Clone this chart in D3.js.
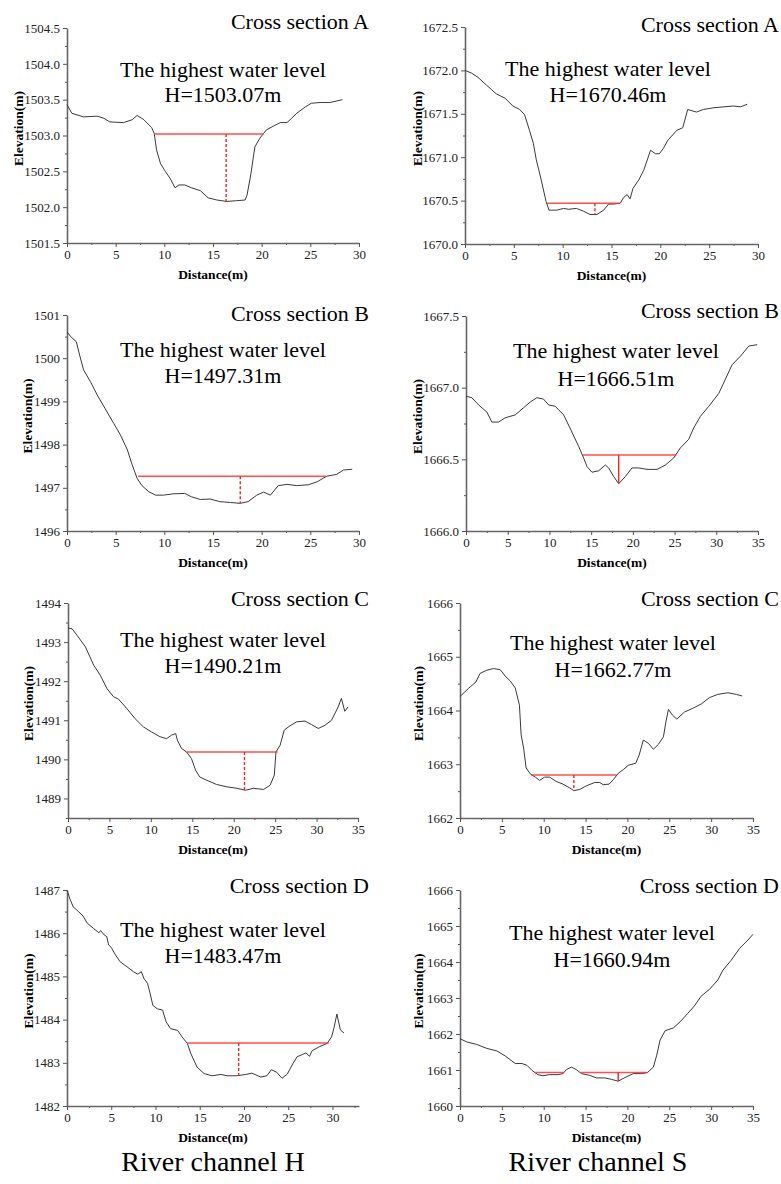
<!DOCTYPE html>
<html>
<head>
<meta charset="utf-8">
<script src="https://cdn.jsdelivr.net/npm/d3@7"></script>
<style>
  body { margin: 0; background: #fff; }
  svg { display: block; font-family: "Liberation Serif", "Times New Roman", serif; }
</style>
</head>
<body>
<svg id="chart" width="781" height="1184"></svg>
<script>
// ---- data ----
const channels = ["River channel H", "River channel S"];
const sections = ["A", "B", "C", "D"];

// ground profiles, [distance (m), elevation (m)]
const profileHA = [[0,1503.43],[0.5,1503.31],[1.7,1503.26],[3.1,1503.27],[3.8,1503.24],[4.4,1503.19],[5.8,1503.18],[6.7,1503.22],[7.2,1503.28],[7.9,1503.22],[8.7,1503.11],[8.96,1503.03],[9.2,1502.80],[9.6,1502.61],[10.1,1502.50],[10.6,1502.40],[11.1,1502.27],[11.5,1502.31],[12.1,1502.31],[12.8,1502.27],[13.7,1502.23],[14.5,1502.13],[15.4,1502.10],[16.4,1502.08],[17.4,1502.09],[18.3,1502.10],[18.5,1502.17],[18.9,1502.47],[19.3,1502.84],[19.8,1502.96],[20.2,1503.03],[20.5,1503.08],[21.2,1503.13],[21.9,1503.18],[22.6,1503.18],[23.6,1503.31],[24.5,1503.40],[25.1,1503.45],[26.0,1503.46],[27.0,1503.46],[28.3,1503.50]];
const profileSA = [[0,1672.00],[0.65,1671.97],[1.33,1671.92],[2.2,1671.83],[3.2,1671.73],[4.1,1671.68],[4.9,1671.59],[5.6,1671.55],[6.1,1671.49],[6.6,1671.31],[7.0,1671.16],[7.3,1670.97],[7.8,1670.74],[8.3,1670.49],[8.6,1670.39],[9.4,1670.39],[10.1,1670.41],[10.6,1670.40],[11.4,1670.41],[12.1,1670.38],[12.8,1670.34],[13.5,1670.34],[14.2,1670.39],[14.7,1670.46],[15.2,1670.46],[15.9,1670.47],[16.2,1670.53],[16.6,1670.57],[16.9,1670.52],[17.2,1670.64],[17.8,1670.74],[18.3,1670.85],[19.0,1671.08],[19.5,1671.04],[19.9,1671.04],[20.3,1671.10],[20.8,1671.20],[21.7,1671.31],[22.3,1671.34],[22.8,1671.55],[23.7,1671.52],[24.4,1671.55],[25.5,1671.57],[26.5,1671.58],[27.5,1671.59],[28.2,1671.58],[28.9,1671.61]];
const profileHB = [[0,1500.61],[0.34,1500.51],[0.96,1500.38],[1.3,1500.07],[1.7,1499.73],[2.4,1499.46],[3.1,1499.15],[3.9,1498.84],[4.8,1498.49],[5.5,1498.22],[6.2,1497.88],[6.7,1497.53],[7.2,1497.22],[7.7,1497.05],[8.4,1496.91],[9.1,1496.83],[9.9,1496.83],[10.9,1496.86],[12.1,1496.87],[12.8,1496.79],[13.7,1496.73],[14.7,1496.74],[15.7,1496.68],[16.8,1496.66],[17.8,1496.64],[18.6,1496.68],[19.5,1496.83],[20.2,1496.90],[20.9,1496.83],[21.7,1497.05],[22.6,1497.08],[23.6,1497.05],[24.8,1497.07],[25.7,1497.14],[26.7,1497.27],[27.7,1497.31],[28.4,1497.41],[29.3,1497.43]];
const profileSB = [[0,1666.94],[0.7,1666.93],[1.5,1666.88],[2.5,1666.83],[3.1,1666.76],[3.9,1666.76],[4.7,1666.79],[5.9,1666.81],[6.9,1666.86],[7.7,1666.90],[8.5,1666.93],[9.3,1666.92],[9.9,1666.88],[10.7,1666.87],[11.7,1666.81],[12.7,1666.69],[13.5,1666.59],[14.1,1666.51],[14.5,1666.45],[15.1,1666.41],[15.9,1666.42],[16.7,1666.46],[17.1,1666.44],[17.7,1666.38],[18.3,1666.33],[19.1,1666.38],[19.9,1666.44],[20.7,1666.44],[21.7,1666.43],[22.9,1666.43],[23.9,1666.46],[24.9,1666.51],[25.7,1666.58],[26.7,1666.64],[27.3,1666.72],[28.1,1666.80],[29.1,1666.87],[30.3,1666.96],[31.1,1667.06],[31.9,1667.16],[32.9,1667.22],[33.9,1667.29],[34.9,1667.30]];
const profileHC = [[0,1493.36],[0.5,1493.34],[1.1,1493.17],[2.1,1492.88],[3.1,1492.41],[3.9,1492.15],[4.7,1491.81],[5.5,1491.60],[6.1,1491.54],[7.1,1491.30],[8.1,1491.04],[9.1,1490.83],[10.1,1490.70],[11.1,1490.58],[11.9,1490.53],[12.5,1490.62],[13.0,1490.66],[13.2,1490.49],[13.7,1490.28],[14.3,1490.19],[14.9,1490.02],[15.4,1489.72],[15.9,1489.55],[16.7,1489.47],[17.9,1489.36],[19.1,1489.30],[20.4,1489.26],[21.4,1489.21],[22.4,1489.26],[23.6,1489.23],[24.4,1489.34],[24.9,1489.60],[25.1,1490.19],[25.6,1490.36],[26.1,1490.75],[26.8,1490.86],[27.6,1490.96],[28.6,1490.98],[29.4,1490.89],[30.2,1490.79],[31.0,1490.87],[31.8,1491.00],[32.3,1491.21],[32.6,1491.34],[33.0,1491.56],[33.4,1491.23],[33.8,1491.34]];
const profileSC = [[0,1664.26],[1.0,1664.41],[1.9,1664.53],[2.4,1664.69],[3.2,1664.75],[4.0,1664.78],[4.8,1664.76],[5.4,1664.64],[6.0,1664.55],[6.6,1664.42],[7.1,1664.10],[7.3,1663.55],[7.6,1663.30],[7.9,1662.93],[8.4,1662.82],[9.0,1662.76],[9.5,1662.70],[10.1,1662.76],[10.7,1662.76],[11.5,1662.68],[12.3,1662.63],[13.1,1662.56],[13.6,1662.51],[14.3,1662.53],[15.1,1662.60],[16.1,1662.66],[16.7,1662.66],[17.1,1662.62],[17.8,1662.63],[18.3,1662.71],[18.9,1662.83],[19.5,1662.90],[20.1,1662.98],[21.0,1663.02],[21.4,1663.17],[21.9,1663.45],[22.5,1663.39],[23.1,1663.28],[23.7,1663.37],[24.3,1663.51],[24.6,1663.79],[24.9,1664.02],[25.4,1663.91],[25.9,1663.84],[26.8,1663.97],[27.8,1664.04],[28.8,1664.12],[29.8,1664.24],[30.8,1664.30],[32.0,1664.33],[33.0,1664.30],[33.7,1664.27]];
const profileHD = [[0,1487.00],[0.3,1486.81],[0.7,1486.61],[1.3,1486.50],[1.8,1486.40],[2.3,1486.23],[3.0,1486.11],[3.6,1486.01],[3.8,1486.06],[4.2,1485.96],[4.5,1485.92],[4.7,1485.73],[5.0,1485.67],[5.5,1485.49],[6.0,1485.34],[6.8,1485.22],[7.5,1485.11],[8.0,1485.05],[8.4,1485.11],[8.7,1484.95],[9.1,1484.84],[9.4,1484.60],[9.7,1484.33],[10.2,1484.25],[10.8,1484.22],[11.2,1483.95],[11.7,1483.79],[12.5,1483.75],[13.0,1483.60],[13.6,1483.45],[14.0,1483.21],[14.7,1482.90],[15.5,1482.75],[16.4,1482.70],[17.4,1482.73],[18.1,1482.70],[19.2,1482.70],[20.2,1482.73],[20.9,1482.76],[21.9,1482.67],[22.6,1482.70],[23.1,1482.84],[23.7,1482.78],[24.3,1482.64],[24.9,1482.74],[25.5,1482.97],[26.0,1483.14],[26.6,1483.19],[27.0,1483.23],[27.4,1483.15],[27.7,1483.28],[28.5,1483.37],[29.4,1483.45],[29.9,1483.60],[30.2,1483.83],[30.5,1484.13],[30.9,1483.76],[31.3,1483.69]];
const profileSD = [[0,1661.87],[0.8,1661.78],[2.0,1661.71],[3.2,1661.60],[4.4,1661.53],[5.4,1661.39],[6.6,1661.18],[7.4,1661.18],[8.0,1661.13],[8.6,1660.99],[9.3,1660.87],[9.9,1660.84],[10.7,1660.87],[11.7,1660.87],[12.3,1660.90],[12.7,1661.01],[13.3,1661.08],[13.9,1661.01],[14.5,1660.90],[15.5,1660.85],[16.3,1660.78],[17.3,1660.78],[18.1,1660.74],[18.9,1660.69],[19.7,1660.79],[20.7,1660.90],[21.7,1660.90],[22.4,1660.93],[23.1,1661.08],[23.5,1661.41],[23.9,1661.83],[24.5,1662.09],[25.5,1662.17],[26.3,1662.34],[27.2,1662.57],[28.0,1662.78],[28.8,1663.05],[29.8,1663.24],[30.8,1663.50],[31.4,1663.77],[32.4,1664.05],[33.4,1664.38],[34.4,1664.61],[35.0,1664.77]];

// highest water level as printed, and as drawn
const levelLabelsH = ["H=1503.07m", "H=1497.31m", "H=1490.21m", "H=1483.47m"];
const levelLabelsS = ["H=1670.46m", "H=1666.51m", "H=1662.77m", "H=1660.94m"];
const waterLevelH = [1503.02, 1497.27, 1490.19, 1483.46];
const waterLevelS = [1670.47, 1666.53, 1662.80, 1660.93];
// water surface extent(s) across the section
const waterSpanH = [[[8.96, 20.2]], [[7.3, 26.6]], [[14.3, 25.3]], [[13.6, 29.6]]];
const waterSpanS = [[[8.4, 15.8]], [[14.0, 25.2]], [[8.5, 18.7]], [[9.0, 12.4], [14.4, 22.4]]];
// depth gauge line: distance and channel bed
const gaugeXH = [16.35, 17.8, 21.3, 19.4];
const gaugeBedH = [1502.08, 1496.64, 1489.21, 1482.70];
const gaugeXS = [13.3, 18.3, 13.6, 18.9];
const gaugeBedS = [1670.34, 1666.33, 1662.51, 1660.69];

// axis ranges
const xMaxH = [30, 30, 35, 33];
const xMaxS = [30, 35, 35, 35];
const yRangeH = [[1501.5, 1504.5], [1496, 1501], [1488.5, 1494], [1482, 1487]];
const yRangeS = [[1670, 1672.5], [1666, 1667.5], [1662, 1666], [1660, 1666]];
const yStepH = [0.5, 1, 1, 1];
const yStepS = [0.5, 0.5, 1, 1];

// ---- layout ----
const layoutH = [
  { x0: 67, x1: 359, y0: 28, y1: 243, title: 29, l1: 77, l2: 102, cx: 223, ex: 18 },
  { x0: 67, x1: 359, y0: 315, y1: 531, title: 321, l1: 357, l2: 383, cx: 223, ex: 27 },
  { x0: 68, x1: 358, y0: 603, y1: 818, title: 606, l1: 647, l2: 673, cx: 223, ex: 28 },
  { x0: 67, x1: 359, y0: 890, y1: 1106, title: 893, l1: 937, l2: 963, cx: 223, ex: 28 }
];
const layoutS = [
  { x0: 465, x1: 758, y0: 27, y1: 244, title: 32, l1: 76, l2: 102, cx: 608, ex: 417 },
  { x0: 466, x1: 758, y0: 316, y1: 531, title: 318, l1: 358, l2: 386, cx: 616, ex: 417 },
  { x0: 460, x1: 753, y0: 603, y1: 818, title: 606, l1: 650, l2: 677, cx: 613, ex: 418 },
  { x0: 460, x1: 753, y0: 890, y1: 1106, title: 893, l1: 940, l2: 967, cx: 612, ex: 418 }
];

const svg = d3.select("#chart");
const profilesH = [profileHA, profileHB, profileHC, profileHD];
const profilesS = [profileSA, profileSB, profileSC, profileSD];
const font = "'Liberation Serif', 'Times New Roman', serif";

function range(a, b, step) {
  const out = [];
  for (let v = a; v <= b + 1e-6; v += step) out.push(+v.toFixed(4));
  return out;
}

function drawPanel(p) {
  const L = p.layout;
  const x = d3.scaleLinear().domain([0, p.xMax]).range([L.x0, L.x1]);
  const y = d3.scaleLinear().domain(p.yRange).range([L.y1, L.y0]);
  const g = svg.append("g");

  const yFmt = p.yStep < 1 ? d3.format(".1f") : d3.format("d");
  const yMajor = range(Math.ceil(p.yRange[0] / p.yStep) * p.yStep, p.yRange[1], p.yStep);
  const yMinor = range(p.yRange[0], p.yRange[1], p.yStep / 2).filter(v => !yMajor.some(m => Math.abs(m - v) < 1e-6));
  const xMajor = range(0, p.xMax, 5);
  const xMinor = range(2.5, p.xMax, 5);

  // minor ticks
  g.append("g")
    .attr("transform", `translate(${L.x0},0)`)
    .call(d3.axisLeft(y).tickValues(yMinor).tickSize(2).tickFormat(""))
    .call(a => a.select(".domain").remove());
  g.append("g")
    .attr("transform", `translate(0,${L.y1})`)
    .call(d3.axisBottom(x).tickValues(xMinor).tickSize(2).tickFormat(""))
    .call(a => a.select(".domain").remove());

  // major ticks + labels
  g.append("g")
    .attr("transform", `translate(${L.x0},0)`)
    .call(d3.axisLeft(y).tickValues(yMajor).tickSize(4).tickSizeOuter(0).tickPadding(3).tickFormat(yFmt));
  g.append("g")
    .attr("transform", `translate(0,${L.y1})`)
    .call(d3.axisBottom(x).tickValues(xMajor).tickSize(4).tickSizeOuter(0).tickPadding(3));

  g.selectAll(".tick line").attr("stroke", "#555").attr("stroke-width", 1);
  g.selectAll(".domain").attr("stroke", "#666").attr("stroke-width", 1.6);
  g.selectAll(".tick text")
    .attr("fill", "#222")
    .style("font-family", font)
    .style("font-size", "13px");

  // ground profile
  g.append("path")
    .datum(p.profile)
    .attr("fill", "none")
    .attr("stroke", "#3a3a3a")
    .attr("stroke-width", 1)
    .attr("d", d3.line().x(d => x(d[0])).y(d => y(d[1])));

  // water surface
  g.selectAll(".water")
    .data(p.spans)
    .join("line")
    .attr("class", "water")
    .attr("x1", d => x(d[0]))
    .attr("x2", d => x(d[1]))
    .attr("y1", y(p.level))
    .attr("y2", y(p.level))
    .attr("stroke", "#ff3030")
    .attr("stroke-opacity", 0.85)
    .attr("stroke-width", 1.5);

  // depth gauge
  g.append("line")
    .attr("x1", x(p.gaugeX)).attr("x2", x(p.gaugeX))
    .attr("y1", y(p.level)).attr("y2", y(p.gaugeBed))
    .attr("stroke", "#ff2020")
    .attr("stroke-width", 1.4)
    .attr("stroke-dasharray", p.solidGauge ? null : "3,2");

  // texts
  g.append("text")
    .attr("x", p.titleRight).attr("y", L.title)
    .attr("text-anchor", "end")
    .style("font-size", "22px").style("font-family", font)
    .text("Cross section " + p.section);
  g.append("text")
    .attr("x", L.cx).attr("y", L.l1)
    .attr("text-anchor", "middle")
    .style("font-size", "22px").style("font-family", font)
    .text("The highest water level");
  g.append("text")
    .attr("x", L.cx).attr("y", L.l2)
    .attr("text-anchor", "middle")
    .style("font-size", "22px").style("font-family", font)
    .text(p.levelLabel);

  g.append("text")
    .attr("transform", `translate(${L.ex},${(L.y0 + L.y1) / 2 - 7}) rotate(-90)`)
    .attr("text-anchor", "middle")
    .attr("dominant-baseline", "central")
    .style("font-size", "13.5px").style("font-weight", "bold").style("font-family", font)
    .text("Elevation(m)");
  g.append("text")
    .attr("x", (L.x0 + L.x1) / 2).attr("y", L.y1 + 36)
    .attr("text-anchor", "middle")
    .style("font-size", "13.5px").style("font-weight", "bold").style("font-family", font)
    .text("Distance(m)");
}

sections.forEach((s, i) => {
  drawPanel({
    section: s, layout: layoutH[i], profile: profilesH[i],
    xMax: xMaxH[i], yRange: yRangeH[i], yStep: yStepH[i],
    level: waterLevelH[i], spans: waterSpanH[i], gaugeX: gaugeXH[i], gaugeBed: gaugeBedH[i],
    levelLabel: levelLabelsH[i], titleRight: 369, solidGauge: false
  });
  drawPanel({
    section: s, layout: layoutS[i], profile: profilesS[i],
    xMax: xMaxS[i], yRange: yRangeS[i], yStep: yStepS[i],
    level: waterLevelS[i], spans: waterSpanS[i], gaugeX: gaugeXS[i], gaugeBed: gaugeBedS[i],
    levelLabel: levelLabelsS[i], titleRight: 779, solidGauge: (i === 1 || i === 3)
  });
});

// channel captions
svg.selectAll(".caption")
  .data(channels)
  .join("text")
  .attr("class", "caption")
  .attr("x", (d, i) => i === 0 ? 213 : 598)
  .attr("y", 1171)
  .attr("text-anchor", "middle")
  .style("font-size", "28px")
  .style("font-family", font)
  .text(d => d);
</script>
</body>
</html>
